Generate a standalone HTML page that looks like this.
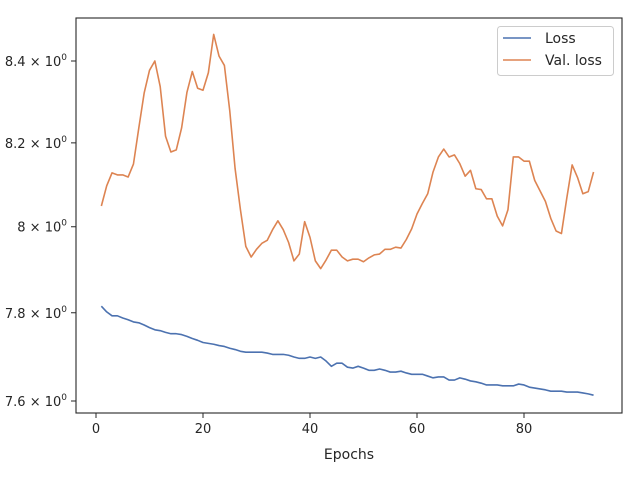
<!DOCTYPE html>
<html><head><meta charset="utf-8"><style>
body{margin:0;background:#fff;}
svg{display:block;font-family:"DejaVu Sans","Liberation Sans",sans-serif;}
</style></head><body>
<svg id="chart" width="640" height="480"></svg>
<script>
const epochsStart = 1;
const lossValues = [7.815,7.802,7.793,7.793,7.788,7.784,7.779,7.777,7.772,7.766,7.761,7.759,7.755,7.752,7.752,7.750,7.746,7.741,7.737,7.732,7.730,7.728,7.725,7.723,7.719,7.716,7.712,7.710,7.710,7.710,7.710,7.708,7.705,7.705,7.705,7.703,7.699,7.696,7.696,7.699,7.696,7.699,7.690,7.678,7.685,7.685,7.676,7.674,7.678,7.674,7.669,7.669,7.672,7.669,7.665,7.665,7.667,7.663,7.660,7.660,7.660,7.656,7.652,7.654,7.654,7.647,7.647,7.652,7.649,7.645,7.643,7.640,7.636,7.636,7.636,7.634,7.634,7.634,7.638,7.636,7.631,7.629,7.627,7.625,7.622,7.622,7.622,7.620,7.620,7.620,7.618,7.616,7.613];
const valLossValues = [8.049,8.097,8.128,8.123,8.123,8.118,8.149,8.236,8.321,8.377,8.40,8.337,8.216,8.178,8.183,8.236,8.323,8.374,8.333,8.328,8.371,8.466,8.412,8.389,8.278,8.138,8.04,7.954,7.929,7.947,7.961,7.968,7.993,8.014,7.993,7.963,7.92,7.936,8.012,7.975,7.92,7.902,7.922,7.945,7.945,7.929,7.92,7.924,7.924,7.918,7.927,7.934,7.936,7.947,7.947,7.952,7.95,7.97,7.995,8.03,8.055,8.078,8.13,8.166,8.185,8.166,8.171,8.15,8.12,8.134,8.09,8.088,8.066,8.066,8.025,8.002,8.04,8.166,8.166,8.156,8.156,8.11,8.085,8.06,8.02,7.99,7.984,8.068,8.147,8.117,8.078,8.083,8.13];
const xTicks = [0,20,40,60,80];
const yTicks = [7.6,7.8,8.0,8.4,8.2];
const yTickLabels = ["7.6","7.8","8","8.4","8.2"];

const L=76,R=622,T=18,B=413;
const xScale = v => 96 + (v-0)*(203-96)/20;
const K = (401-61)/Math.log(8.4/7.6);
const yScale = v => 401 - Math.log(v/7.6)*K;
const NS="http://www.w3.org/2000/svg";
const svg=document.getElementById('chart');
function mk(tag,attrs,parent){const e=document.createElementNS(NS,tag);for(const k in attrs)e.setAttribute(k,attrs[k]);(parent||svg).appendChild(e);return e;}

// x ticks
xTicks.forEach(t=>{
  const x=xScale(t);
  const ln=mk('line',{x1:x,x2:x,y1:B,y2:B+5,stroke:'#262626','stroke-width':1});
  
  
  const tx=mk('text',{x:x,y:B+20,'text-anchor':'middle','font-size':13,fill:'#262626'});
  tx.textContent=String(t);
  
  
});
// y ticks
yTicks.forEach((t,i)=>{
  const y=yScale(t);
  const ln=mk('line',{x1:L-5,x2:L,y1:y,y2:y,stroke:'#262626','stroke-width':1});
  
  
  const tx=mk('text',{x:L-9,y:y+5,'text-anchor':'end','font-size':13,fill:'#262626'});
  
  
  const a=document.createElementNS(NS,'tspan');a.textContent=yTickLabels[i]+" × 10";tx.appendChild(a);
  const b=document.createElementNS(NS,'tspan');b.setAttribute('dy','-6');b.setAttribute('font-size','9');b.textContent="0";tx.appendChild(b);
});
function series(vals,color,name){
  const pts=vals.map((v,i)=>xScale(epochsStart+i).toFixed(2)+','+yScale(v).toFixed(2)).join(' ');
  const p=mk('polyline',{points:pts,fill:'none',stroke:color,'stroke-width':1.6,'stroke-linejoin':'round'});
  
  
}
series(lossValues,'#4c72b0','loss-line');
series(valLossValues,'#dd8452','val-loss-line');

const fr=mk('rect',{x:L,y:T,width:R-L,height:B-T,fill:'none',stroke:'#262626','stroke-width':1.1});


const xl=mk('text',{x:(L+R)/2,y:459,'text-anchor':'middle','font-size':14,fill:'#262626'});
xl.textContent='Epochs';



// legend
const lg=mk('g',{});


mk('rect',{x:497.5,y:26.5,width:116,height:49,rx:3,fill:'#fff',stroke:'#cccccc'},lg);
[['Loss','#4c72b0',43],['Val. loss','#dd8452',65]].forEach(([t,c,y])=>{
  const g=mk('g',{},lg);
  
  
  mk('line',{x1:503,x2:531,y1:y-5,y2:y-5,stroke:c,'stroke-width':1.6},g);
  const tx=mk('text',{x:545,y:y,'font-size':14,fill:'#262626'},g);tx.textContent=t;
});
</script>
</body></html>
